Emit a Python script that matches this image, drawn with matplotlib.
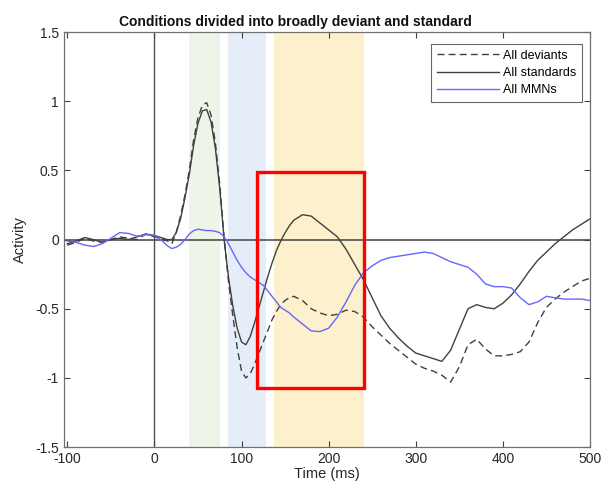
import matplotlib
matplotlib.use('Agg')
import matplotlib.pyplot as plt
from matplotlib.patches import Rectangle

plt.rcParams['font.family'] = ['Liberation Sans', 'DejaVu Sans']
plt.rcParams['axes.unicode_minus'] = False

# time axis (ms), finer steps around the early components
time_ms = [-100, -90, -80, -70, -60, -50, -40, -30, -20, -10, 0,
           5, 10, 15, 20, 25, 30, 35, 40, 45, 50, 55, 60, 65, 70, 75, 80,
           85, 90, 95, 100, 105, 110, 115, 120, 125, 130, 135, 140, 145,
           150, 155, 160,
           170, 180, 190, 200, 210, 220, 230, 240, 250, 260, 270, 280, 290,
           300, 310, 320, 330, 340, 350, 360, 370, 380, 390, 400, 410, 420,
           430, 440, 450, 460, 470, 480, 490, 500]

deviants = [-0.04, -0.02, 0.01, -0.01, -0.02, 0.0, 0.02, 0.01, 0.0, 0.04, 0.02,
            0.01, 0.0, -0.01, -0.03, 0.05, 0.17, 0.32, 0.50, 0.72, 0.88, 0.97, 0.99, 0.90, 0.70, 0.40, 0.02,
            -0.30, -0.55, -0.78, -0.95, -1.00, -0.97, -0.90, -0.82, -0.74, -0.66, -0.58, -0.52, -0.47,
            -0.44, -0.42, -0.41,
            -0.44, -0.50, -0.53, -0.55, -0.54, -0.51, -0.52, -0.56, -0.63, -0.69, -0.75, -0.80, -0.85,
            -0.90, -0.93, -0.95, -0.98, -1.03, -0.92, -0.76, -0.72, -0.79, -0.84, -0.84, -0.83, -0.81,
            -0.74, -0.60, -0.49, -0.43, -0.38, -0.34, -0.30, -0.28]

standards = [-0.03, -0.01, 0.015, 0.0, -0.02, 0.0, 0.01, 0.0, 0.02, 0.04, 0.03,
             0.02, 0.01, 0.0, 0.0, 0.05, 0.15, 0.30, 0.47, 0.68, 0.84, 0.93, 0.94, 0.85, 0.66, 0.37, 0.0,
             -0.27, -0.48, -0.64, -0.74, -0.76, -0.70, -0.60, -0.49, -0.38, -0.27, -0.17, -0.08, -0.01,
             0.05, 0.10, 0.14,
             0.18, 0.17, 0.12, 0.07, 0.02, -0.07, -0.18, -0.29, -0.42, -0.55, -0.64, -0.71, -0.77,
             -0.82, -0.84, -0.86, -0.88, -0.80, -0.65, -0.50, -0.47, -0.49, -0.50, -0.46, -0.40, -0.32,
             -0.23, -0.15, -0.09, -0.03, 0.02, 0.07, 0.11, 0.15]

mmns = [-0.01, -0.02, -0.04, -0.05, -0.03, 0.01, 0.05, 0.045, 0.025, 0.035, 0.03,
        0.01, -0.015, -0.045, -0.065, -0.055, -0.035, 0.0, 0.04, 0.065, 0.075, 0.07, 0.065, 0.065, 0.06, 0.05, 0.02,
        -0.03, -0.09, -0.15, -0.20, -0.24, -0.27, -0.29, -0.31, -0.33, -0.37, -0.41, -0.45, -0.49,
        -0.51, -0.53, -0.56,
        -0.61, -0.66, -0.665, -0.64, -0.56, -0.45, -0.33, -0.24, -0.19, -0.15, -0.13, -0.12, -0.11,
        -0.10, -0.09, -0.10, -0.13, -0.16, -0.18, -0.20, -0.25, -0.32, -0.34, -0.34, -0.35, -0.42,
        -0.47, -0.45, -0.41, -0.42, -0.43, -0.43, -0.43, -0.44]

# shaded analysis windows (ms)
windows = [(40, 75), (84, 128), (137, 241)]
window_colors = ['#edf5e9', '#e5eef8', '#fdf0cd']

# highlighted region: x range (ms), y range (activity)
box_x = (118, 241)
box_y = (-1.07, 0.49)

fig = plt.figure(figsize=(6.02, 4.93), dpi=100)
ax = fig.add_axes([0.106, 0.093, 0.874, 0.842])

for (a, b), c in zip(windows, window_colors):
    ax.axvspan(a, b, color=c, lw=0, zorder=0)

ax.axhline(0, color='#505050', lw=1.2, zorder=1)
ax.axvline(0, color='#505050', lw=1.0, zorder=1)

ax.plot(time_ms, deviants, color='#404040', lw=1.0, ls=(0, (5, 3)), label='All deviants', zorder=3)
ax.plot(time_ms, standards, color='#404040', lw=1.0, label='All standards', zorder=3)
ax.plot(time_ms, mmns, color='#6666ff', lw=1.0, label='All MMNs', zorder=3)

ax.add_patch(Rectangle((box_x[0], box_y[0]), box_x[1] - box_x[0], box_y[1] - box_y[0],
                       fill=False, edgecolor='#ff0000', lw=2.4, zorder=4))

ax.set_xlim(-104, 500)
ax.set_ylim(-1.5, 1.5)
ax.set_xticks([-100, 0, 100, 200, 300, 400, 500])
ax.set_yticks([-1.5, -1, -0.5, 0, 0.5, 1, 1.5])
ax.set_yticklabels(['-1.5', '-1', '-0.5', '0', '0.5', '1', '1.5'])
ax.tick_params(direction='in', top=True, right=True, length=4, width=0.8,
               labelsize=10, colors='#404040', labelcolor='#262626')
for s in ax.spines.values():
    s.set_color('#707070')
    s.set_linewidth(0.9)

ax.set_xlabel('Time (ms)', fontsize=10.5, color='#262626', labelpad=1)
ax.set_ylabel('Activity', fontsize=10.5, color='#262626', labelpad=6)
ax.set_title('Conditions divided into broadly deviant and standard',
             fontsize=10, fontweight='bold', color='#111111', pad=4, x=0.441)

leg = ax.legend(loc='upper right', bbox_to_anchor=(0.985, 0.971), fontsize=9,
                frameon=True, fancybox=False, borderpad=0.45, labelspacing=0.42,
                handlelength=5.0, handletextpad=0.3, borderaxespad=0.0)
leg.get_frame().set_edgecolor('#404040')
leg.get_frame().set_linewidth(0.8)

fig.savefig('out.png', dpi=100)
